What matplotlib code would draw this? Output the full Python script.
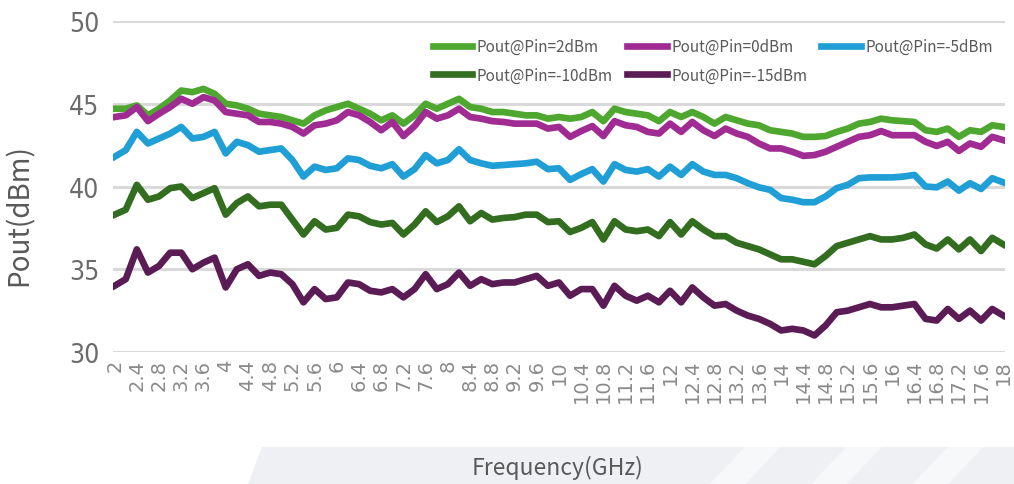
import numpy as np
import matplotlib
matplotlib.use("Agg")
import matplotlib.pyplot as plt
from matplotlib.patches import Polygon

# frequency grid (GHz), every 0.2 GHz
freq = np.round(np.arange(2.0, 18.01, 0.2), 1)

pout_2dbm = [44.7, 44.7, 44.9, 44.3, 44.7, 45.2, 45.8, 45.7, 45.9, 45.6,
             45.0, 44.9, 44.7, 44.4, 44.3, 44.2, 44.0, 43.8, 44.3, 44.6,
             44.8, 45.0, 44.7, 44.4, 44.0, 44.3, 43.8, 44.3, 45.0, 44.7,
             45.0, 45.3, 44.8, 44.7, 44.5, 44.5, 44.4, 44.3, 44.3, 44.1,
             44.2, 44.1, 44.2, 44.5, 43.95, 44.7, 44.5, 44.4, 44.3, 43.95,
             44.5, 44.2, 44.5, 44.2, 43.8, 44.2, 44.0, 43.8, 43.7, 43.4,
             43.3, 43.2, 43.0, 43.0, 43.05, 43.3, 43.5, 43.8, 43.9, 44.1,
             44.0, 43.95, 43.9, 43.4, 43.3, 43.5, 43.0, 43.4, 43.3, 43.7,
             43.6]

pout_0dbm = [44.2, 44.3, 44.8, 43.95, 44.4, 44.8, 45.3, 45.0, 45.4, 45.2,
             44.5, 44.4, 44.3, 43.9, 43.9, 43.8, 43.6, 43.2, 43.7, 43.8,
             44.0, 44.5, 44.3, 43.9, 43.4, 43.9, 43.05, 43.65, 44.5, 44.1,
             44.3, 44.7, 44.2, 44.1, 43.95, 43.9, 43.8, 43.8, 43.8, 43.5,
             43.6, 43.0, 43.35, 43.65, 43.05, 43.95, 43.7, 43.6, 43.3, 43.2,
             43.8, 43.3, 43.9, 43.4, 43.05, 43.5, 43.2, 43.0, 42.6, 42.3,
             42.3, 42.1, 41.85, 41.9, 42.1, 42.4, 42.7, 43.0, 43.1, 43.35,
             43.1, 43.1, 43.1, 42.7, 42.45, 42.7, 42.15, 42.6, 42.4, 43.0,
             42.8]

pout_m5dbm = [41.8, 42.2, 43.3, 42.6, 42.9, 43.2, 43.6, 42.9, 43.0, 43.3,
              42.0, 42.7, 42.5, 42.1, 42.2, 42.3, 41.6, 40.6, 41.2, 41.0,
              41.1, 41.7, 41.6, 41.25, 41.1, 41.35, 40.6, 41.05, 41.9, 41.4,
              41.6, 42.25, 41.6, 41.4, 41.25, 41.3, 41.35, 41.4, 41.5, 41.05,
              41.1, 40.4, 40.75, 41.05, 40.3, 41.35, 41.0, 40.9, 41.05, 40.6,
              41.2, 40.7, 41.35, 40.9, 40.7, 40.7, 40.5, 40.2, 39.95, 39.8,
              39.3, 39.2, 39.05, 39.05, 39.4, 39.9, 40.1, 40.5, 40.55, 40.55,
              40.55, 40.6, 40.7, 40.0, 39.95, 40.3, 39.75, 40.2, 39.85, 40.5,
              40.25]

pout_m10dbm = [38.3, 38.6, 40.1, 39.2, 39.4, 39.9, 40.0, 39.3, 39.6, 39.9,
               38.3, 39.0, 39.4, 38.8, 38.9, 38.9, 38.0, 37.1, 37.9, 37.4,
               37.5, 38.3, 38.2, 37.85, 37.7, 37.8, 37.1, 37.7, 38.5, 37.85,
               38.2, 38.8, 37.9, 38.4, 38.0, 38.1, 38.15, 38.3, 38.3, 37.85,
               37.9, 37.25, 37.5, 37.85, 36.8, 37.9, 37.4, 37.3, 37.4, 37.0,
               37.85, 37.1, 37.9, 37.4, 37.0, 37.0, 36.6, 36.4, 36.2, 35.9,
               35.6, 35.6, 35.45, 35.3, 35.8, 36.4, 36.6, 36.8, 37.0, 36.8,
               36.8, 36.9, 37.1, 36.5, 36.25, 36.8, 36.2, 36.8, 36.1, 36.9,
               36.5]

pout_m15dbm = [34.0, 34.4, 36.2, 34.8, 35.2, 36.0, 36.0, 35.0, 35.4, 35.7,
               33.9, 35.0, 35.3, 34.6, 34.8, 34.7, 34.1, 33.0, 33.8, 33.2,
               33.3, 34.2, 34.1, 33.7, 33.6, 33.8, 33.3, 33.8, 34.7, 33.8,
               34.1, 34.8, 34.0, 34.4, 34.1, 34.2, 34.2, 34.4, 34.6, 34.0,
               34.2, 33.4, 33.8, 33.8, 32.8, 34.0, 33.4, 33.1, 33.4, 33.0,
               33.7, 33.0, 33.9, 33.3, 32.8, 32.9, 32.5, 32.2, 32.0, 31.7,
               31.3, 31.4, 31.3, 31.0, 31.6, 32.4, 32.5, 32.7, 32.9, 32.7,
               32.7, 32.8, 32.9, 32.0, 31.9, 32.6, 32.0, 32.5, 31.9, 32.6,
               32.2]

labels = ["Pout@Pin=2dBm", "Pout@Pin=0dBm", "Pout@Pin=-5dBm",
          "Pout@Pin=-10dBm", "Pout@Pin=-15dBm"]
colors = ["#4ea72e", "#a02b93", "#1f9fd6", "#336d1f", "#5b1b55"]
series = [pout_2dbm, pout_0dbm, pout_m5dbm, pout_m10dbm, pout_m15dbm]

xticks = np.round(np.arange(2.0, 18.01, 0.4), 1)
yticks = [30, 35, 40, 45, 50]

fig = plt.figure(figsize=(10.14, 4.85), dpi=100)

# light decorative band behind the x-axis title
band = Polygon([[0.258, 0.077], [1.0, 0.077], [1.0, 0.0], [0.245, 0.0]],
               closed=True, transform=fig.transFigure, facecolor="#eef0f3",
               edgecolor="none", zorder=0)
fig.patches.append(band)
for x0 in [0.70, 0.80, 0.90]:
    stripe = Polygon([[x0 + 0.035, 0.077], [x0 + 0.07, 0.077], [x0 + 0.035, 0.0], [x0, 0.0]],
                     closed=True, transform=fig.transFigure, facecolor="white",
                     alpha=0.55, edgecolor="none", zorder=0)
    fig.patches.append(stripe)

ax = fig.add_axes([0.1114, 0.2722, 0.8797, 0.6824])
ax.patch.set_alpha(0)

handles = []
for vals, lab, col in zip(series, labels, colors):
    h, = ax.plot(freq, vals, color=col, lw=4.8, label=lab, solid_joinstyle="round")
    handles.append(h)

ax.set_xlim(1.97, 18.03)
ax.set_ylim(30, 50)
ax.set_yticks(yticks)
ax.set_xticks(xticks)
ax.set_xticklabels(["%g" % v for v in xticks], rotation=90, fontsize=14,
                   color="#8a8a8a", family=["DejaVu Sans"])
ax.set_yticklabels([str(v) for v in yticks], fontsize=19, color="#6b6b6b",
                   family=["DejaVu Sans"], fontstretch="condensed")
ax.tick_params(axis="both", length=0)
ax.tick_params(axis="x", pad=5)
ax.tick_params(axis="y", pad=10)
ax.grid(axis="y", color="#d9d9d9", lw=2.2)
ax.set_axisbelow(True)
for s in ax.spines.values():
    s.set_visible(False)

fig.text(0.019, 0.557, "Pout(dBm)", rotation=90, ha="center", va="center",
         fontsize=20, color="#595959", family=["Noto Sans CJK SC", "DejaVu Sans"])
fig.text(0.55, 0.035, "Frequency(GHz)", ha="center", va="center",
         fontsize=16.5, color="#595959", family=["Noto Sans CJK SC", "DejaVu Sans"])

# row-wise legend order for 3 columns
order = [0, 3, 1, 4, 2]
leg = ax.legend([handles[i] for i in order], [labels[i] for i in order],
                ncol=3, loc="upper left", bbox_to_anchor=(0.343, 0.99),
                frameon=False, handlelength=2.6, handletextpad=0.3,
                columnspacing=0.9, labelspacing=0.75,
                prop={"family": ["Noto Sans CJK SC", "DejaVu Sans"], "size": 11})
for t in leg.get_texts():
    t.set_color("#595959")
for lh in leg.get_lines():
    lh.set_linewidth(4.8)

fig.savefig("out.png", dpi=100)
